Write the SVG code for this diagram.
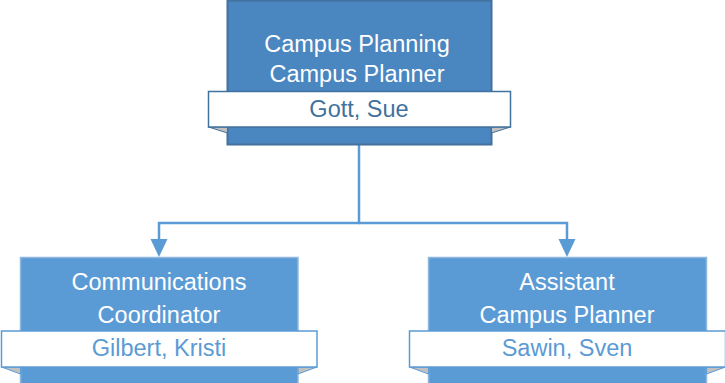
<svg xmlns="http://www.w3.org/2000/svg" width="725" height="383" viewBox="0 0 725 383">
<defs>
<style>
.t{font-family:"Liberation Sans",Arial,sans-serif;font-size:23.5px;text-anchor:middle}
.w{fill:#ffffff}
.top{fill:#4a86c0;stroke:#41719c;stroke-width:2}
.sub{fill:#5b9bd5;stroke:#8fb8e0;stroke-width:1.5}
.band1{fill:#ffffff;stroke:#41719c;stroke-width:1.5}
.band2{fill:#ffffff;stroke:#5b9bd5;stroke-width:1.5}
.fold{fill:#c0c0c0;stroke:#41719c;stroke-width:1}
.fold2{fill:#c0c0c0;stroke:#5b9bd5;stroke-width:1}
.n1{fill:#41719c}
.n2{fill:#5b9bd5}
.c{fill:none;stroke:#5b9bd5;stroke-width:2.5}
.ah{fill:#5b9bd5}
</style>
</defs>
<g id="connectors">
<path class="c" d="M359,145 V223 H159 V240"/>
<path class="c" d="M359,223 H567 V240"/>
<path class="ah" d="M150.5,239 L167.5,239 L159,257 Z"/>
<path class="ah" d="M558.5,239 L575.5,239 L567,257 Z"/>
</g>
<g id="node-top">
<rect class="top" x="227.5" y="0.5" width="264" height="144"/>
<text class="t w" x="357" y="52">Campus Planning</text>
<text class="t w" x="357" y="82">Campus Planner</text>
<path class="fold" d="M208.5,127 L227.5,127 L227.5,133 Z"/>
<path class="fold" d="M491.5,127 L510.5,127 L491.5,133 Z"/>
<rect class="band1" x="208.5" y="91.5" width="302" height="35.5"/>
<text class="t n1" x="359" y="117">Gott, Sue</text>
</g>
<g id="node-left">
<rect class="sub" x="20.5" y="257.5" width="277.5" height="130"/>
<text class="t w" x="159" y="290">Communications</text>
<text class="t w" x="159" y="323">Coordinator</text>
<path class="fold2" d="M1.5,367 L20.5,367 L20.5,374 Z"/>
<path class="fold2" d="M298,367 L317,367 L298,374 Z"/>
<rect class="band2" x="1.5" y="331" width="315.5" height="36"/>
<text class="t n2" x="159" y="356">Gilbert, Kristi</text>
</g>
<g id="node-right">
<rect class="sub" x="428.5" y="257.5" width="278" height="130"/>
<text class="t w" x="567" y="290">Assistant</text>
<text class="t w" x="567" y="323">Campus Planner</text>
<path class="fold2" d="M409.5,367 L428.5,367 L428.5,374 Z"/>
<path class="fold2" d="M706.5,367 L725.5,367 L706.5,374 Z"/>
<rect class="band2" x="409.5" y="331" width="316" height="36"/>
<text class="t n2" x="567" y="356">Sawin, Sven</text>
</g>
</svg>
